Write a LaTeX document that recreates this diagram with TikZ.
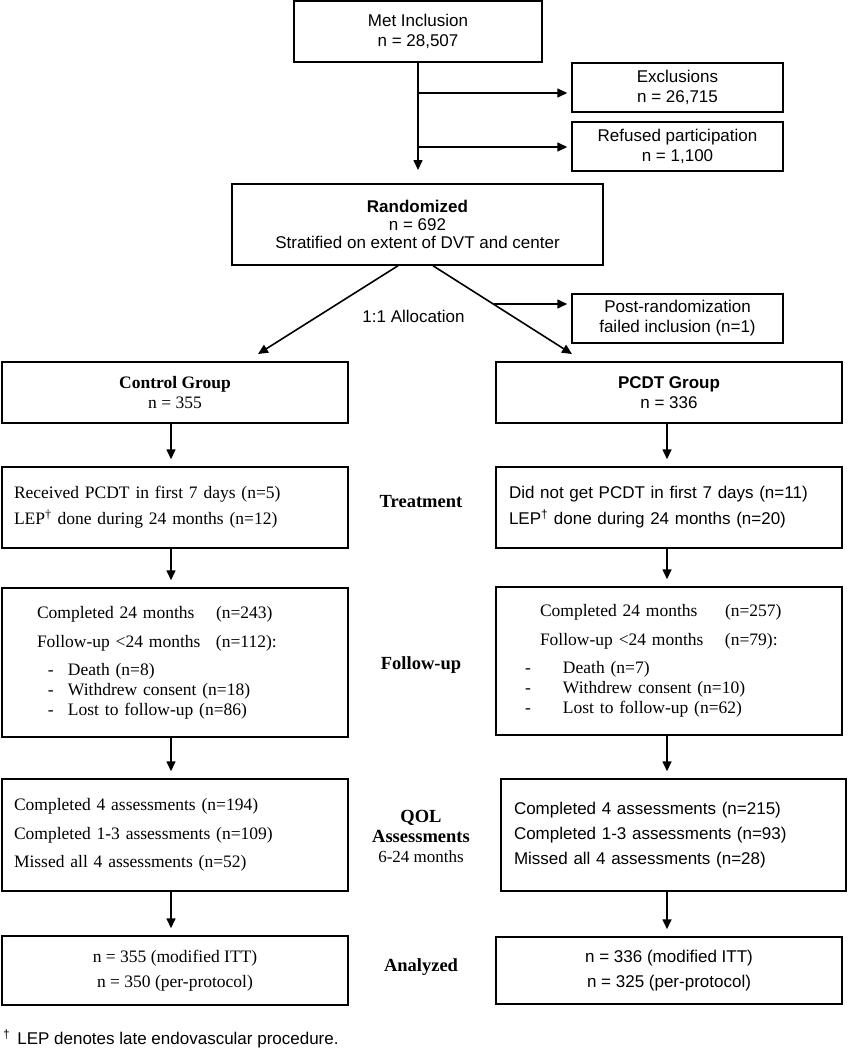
\documentclass[tikz,border=0pt]{standalone}
\usepackage{fontspec}
\setmainfont{Liberation Serif}
\setsansfont{Liberation Sans}
\usetikzlibrary{arrows.meta}

\newcommand{\sansfnt}{\sffamily\fontsize{17}{20}\selectfont}
\newcommand{\seriffnt}{\rmfamily\fontsize{17.5}{26}\selectfont}
\newcommand{\dg}{\textsuperscript{\textdagger}}

\begin{document}
\begin{tikzpicture}[x=1pt, y=-1pt,
  box/.style={draw=black, line width=1.5pt, rounded corners=0pt, inner sep=0pt},
  sansbox/.style={box, font=\sansfnt, align=center},
  serifbox/.style={box, font=\seriffnt},
  stage/.style={font=\rmfamily\bfseries\fontsize{18.5}{20}\selectfont, align=center, inner sep=0pt},
  arr/.style={-{Triangle[length=10pt,width=9pt]}, line width=1.6pt}]

  \useasboundingbox (0,0) rectangle (848,1050);

  % enrolment
  \node[sansbox, minimum width=248pt, minimum height=61pt] (incl) at (418,31.5) {Met Inclusion\\n = 28,507};
  \node[sansbox, minimum width=211pt, minimum height=49pt] (excl) at (677.5,87.5) {Exclusions\\n = 26,715};
  \node[sansbox, minimum width=211pt, minimum height=49pt] (refu) at (677.5,146.5) {Refused participation\\n = 1,100};
  \node[sansbox, minimum width=371pt, minimum height=81pt, font=\sffamily\fontsize{17}{18}\selectfont] (rand) at (417.5,224.5) {\textbf{Randomized}\\n = 692\\Stratified on extent of DVT and center};
  \node[sansbox, minimum width=211pt, minimum height=49pt] (post) at (677.5,318.5) {Post-randomization\\failed inclusion (n=1)};

  \coordinate (trunk) at (418,170);
  \coordinate (b1) at (418,93);
  \coordinate (b2) at (418,147);
  \draw[arr] (incl.south) -- (trunk);
  \draw[arr, shorten >=4pt] (b1) -- (b1 -| excl.west);
  \draw[arr, shorten >=4pt] (b2) -- (b2 -| refu.west);

  % allocation
  \coordinate (ltip) at (258,354);
  \coordinate (rtip) at (572,354);
  \coordinate (b3) at (494,304);
  \draw[arr] ([xshift=-19.5pt]rand.south) -- (ltip);
  \draw[arr] ([xshift=15.5pt]rand.south) -- (rtip);
  \draw[arr, shorten >=4pt] (b3) -- (b3 -| post.west);
  \node[font=\sansfnt, inner sep=0pt] (alloc) at (413.5,316) {1:1 Allocation};

  % groups
  \node[box, align=center, minimum width=346pt, minimum height=61pt, font=\rmfamily\fontsize{17.5}{20}\selectfont] (ctrl) at (175,392.5) {\textbf{Control Group}\\n = 355};
  \node[sansbox, minimum width=346pt, minimum height=61pt] (pcdt) at (669,392.5) {\textbf{PCDT Group}\\n = 336};

  \node[serifbox, minimum width=346pt, minimum height=81pt, text width=322pt, inner xsep=12pt, align=left] (trtL) at (175,507.5) {Received PCDT in first 7 days (n=5)\\LEP\dg{} done during 24 months (n=12)};
  \node[box, font=\sffamily\fontsize{17}{26}\selectfont, minimum width=346pt, minimum height=81pt, text width=320pt, inner xsep=13pt, align=left] (trtR) at (669,507.5) {Did not get PCDT in first 7 days (n=11)\\LEP\dg{} done during 24 months (n=20)};

  \node[box, font=\rmfamily\fontsize{17.5}{20}\selectfont, minimum width=346pt, minimum height=149pt, text width=326pt, inner xsep=10pt, align=left] (fupL) at (175,662.5) {%
    \hspace*{25pt}\makebox[179pt][l]{Completed 24 months}(n=243)\\[9pt]
    \hspace*{25pt}\makebox[179pt][l]{Follow-up <24 months}(n=112):\\[8pt]
    \hspace*{36pt}\makebox[20pt][l]{-}Death (n=8)\\
    \hspace*{36pt}\makebox[20pt][l]{-}Withdrew consent (n=18)\\
    \hspace*{36pt}\makebox[20pt][l]{-}Lost to follow-up (n=86)};
  \node[box, font=\rmfamily\fontsize{17.5}{20}\selectfont, minimum width=346pt, minimum height=148pt, text width=326pt, inner xsep=10pt, align=left] (fupR) at (669,661) {%
    \hspace*{34pt}\makebox[185pt][l]{Completed 24 months}(n=257)\\[9pt]
    \hspace*{34pt}\makebox[185pt][l]{Follow-up <24 months}(n=79):\\[8pt]
    \hspace*{19pt}\makebox[38pt][l]{-}Death (n=7)\\
    \hspace*{19pt}\makebox[38pt][l]{-}Withdrew consent (n=10)\\
    \hspace*{19pt}\makebox[38pt][l]{-}Lost to follow-up (n=62)};

  \node[box, font=\rmfamily\fontsize{17.5}{28.5}\selectfont, minimum width=346pt, minimum height=112pt, text width=322pt, inner xsep=12pt, align=left] (qolL) at (175,835) {Completed 4 assessments (n=194)\\Completed 1-3 assessments (n=109)\\Missed all 4 assessments (n=52)};
  \node[box, font=\sffamily\fontsize{17}{25}\selectfont, minimum width=345pt, minimum height=112pt, text width=319pt, inner xsep=13pt, align=left] (qolR) at (673.5,835) {Completed 4 assessments (n=215)\\Completed 1-3 assessments (n=93)\\Missed all 4 assessments (n=28)};

  \node[box, align=center, font=\rmfamily\fontsize{17.5}{25}\selectfont, minimum width=346pt, minimum height=69pt] (anlL) at (175,970.5) {n = 355 (modified ITT)\\n = 350 (per-protocol)};
  \node[box, align=center, font=\sffamily\fontsize{17}{25}\selectfont, minimum width=346pt, minimum height=67pt] (anlR) at (669,970.5) {n = 336 (modified ITT)\\n = 325 (per-protocol)};

  % stage labels
  \node[stage] (trt) at (421,502) {Treatment};
  \node[stage] (fup) at (421,665) {Follow-up};
  \node[stage] (qol) at (421,836) {QOL\\Assessments\\{\mdseries\fontsize{17}{20}\selectfont 6-24 months}};
  \node[stage] (anl) at (421,967) {Analyzed};

  % column arrows
  \coordinate (colL) at (171,0);
  \coordinate (colR) at (667,0);
  \draw[arr, shorten >=7pt] (ctrl.south -| colL) -- (trtL.north -| colL);
  \draw[arr, shorten >=7pt] (trtL.south -| colL) -- (fupL.north -| colL);
  \draw[arr, shorten >=7pt] (fupL.south -| colL) -- (qolL.north -| colL);
  \draw[arr, shorten >=7pt] (qolL.south -| colL) -- (anlL.north -| colL);
  \draw[arr, shorten >=7pt] (pcdt.south -| colR) -- (trtR.north -| colR);
  \draw[arr, shorten >=7pt] (trtR.south -| colR) -- (fupR.north -| colR);
  \draw[arr, shorten >=7pt] (fupR.south -| colR) -- (qolR.north -| colR);
  \draw[arr, shorten >=7pt] (qolR.south -| colR) -- (anlR.north -| colR);

  % footnote
  \node[font=\sansfnt, anchor=west, inner sep=0pt] (note) at (3,1039) {\dg\hspace{7pt}LEP denotes late endovascular procedure.};
\end{tikzpicture}
\end{document}
